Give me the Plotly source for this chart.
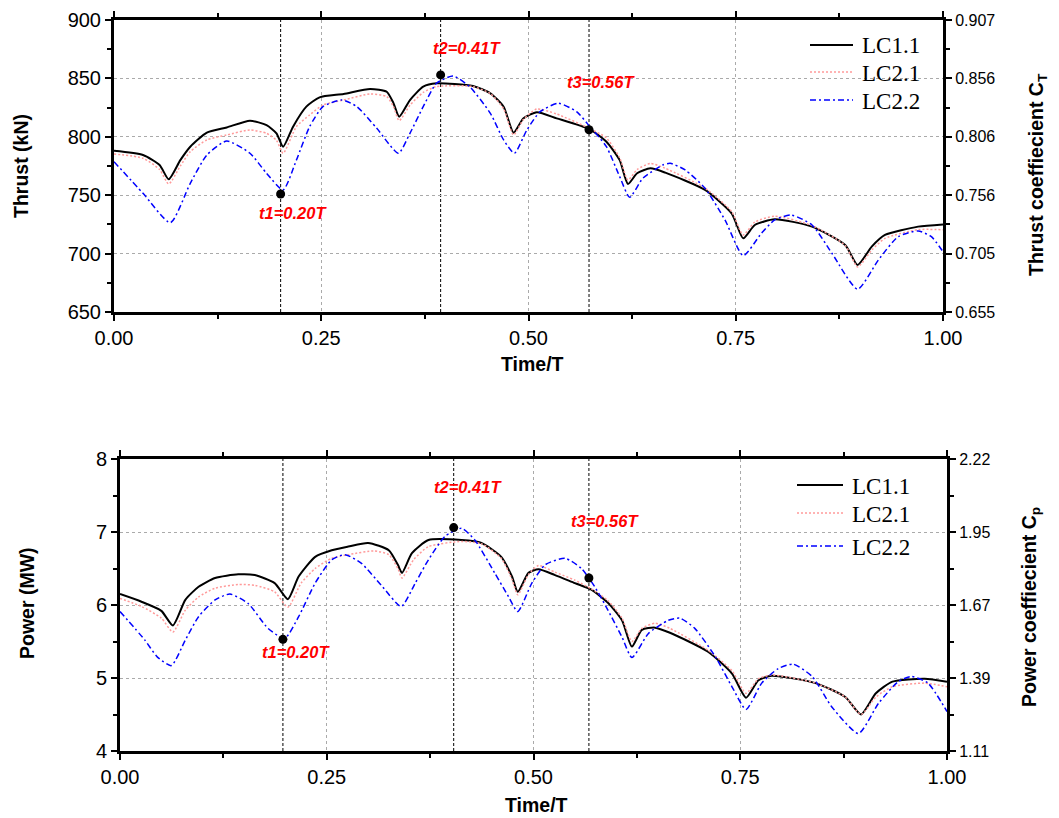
import plotly.graph_objects as go

# ---------------- data: thrust (top) ----------------
t_lc11_top = [0.0, 0.035, 0.055, 0.066, 0.080, 0.092, 0.112, 0.136, 0.164, 0.184, 0.196, 0.204, 0.216, 0.232, 0.248,
              0.277, 0.309, 0.329, 0.337, 0.344, 0.357, 0.373, 0.389, 0.433, 0.454, 0.470, 0.482, 0.494, 0.510, 0.534,
              0.574, 0.594, 0.610, 0.620, 0.631, 0.647, 0.665, 0.713, 0.745, 0.759, 0.773, 0.797, 0.842, 0.882, 0.897,
              0.914, 0.930, 0.970, 1.0]
thrust_lc11 = [788.0, 784.4, 775.9, 763.6, 780.0, 791.5, 803.5, 808.0, 813.8, 810.0, 803.0, 791.5, 808.7, 825.8, 833.8,
               836.7, 841.0, 838.6, 829.0, 817.2, 831.5, 842.9, 845.8, 843.5, 837.2, 825.8, 803.5, 815.8, 821.0, 815.8,
               806.4, 795.8, 780.0, 759.6, 768.8, 773.0, 769.3, 754.5, 734.5, 713.1, 724.5, 729.4, 723.1, 707.4, 690.3,
               706.0, 716.0, 723.1, 725.0]

t_lc21_top = [0.0, 0.035, 0.055, 0.066, 0.080, 0.092, 0.112, 0.136, 0.164, 0.184, 0.196, 0.204, 0.220, 0.236, 0.252,
              0.277, 0.309, 0.329, 0.337, 0.344, 0.357, 0.373, 0.389, 0.433, 0.454, 0.470, 0.482, 0.494, 0.510, 0.534,
              0.574, 0.594, 0.610, 0.620, 0.631, 0.647, 0.665, 0.713, 0.745, 0.759, 0.773, 0.797, 0.842, 0.882, 0.897,
              0.914, 0.930, 0.970, 1.0]
thrust_lc21 = [785.3, 781.6, 772.0, 759.6, 775.0, 787.3, 797.3, 801.6, 805.8, 803.0, 797.0, 785.9, 808.7, 818.7, 827.2,
               831.5, 836.7, 834.4, 826.0, 813.8, 827.0, 838.0, 843.0, 843.0, 837.0, 824.0, 801.6, 815.0, 823.8, 819.5,
               807.0, 799.0, 782.0, 763.0, 772.0, 777.2, 773.0, 756.0, 736.0, 716.0, 727.0, 732.0, 724.0, 707.0, 688.6,
               703.0, 713.0, 720.5, 720.4]

t_lc22_top = [0.0, 0.035, 0.068, 0.092, 0.112, 0.136, 0.164, 0.184, 0.204, 0.220, 0.236, 0.252, 0.275, 0.293, 0.317,
              0.343, 0.357, 0.373, 0.389, 0.409, 0.429, 0.454, 0.470, 0.483, 0.498, 0.514, 0.536, 0.558, 0.574, 0.594,
              0.610, 0.622, 0.638, 0.662, 0.671, 0.689, 0.713, 0.737, 0.759, 0.781, 0.797, 0.817, 0.842, 0.866, 0.897,
              0.922, 0.946, 0.970, 0.986, 1.0]
thrust_lc22 = [778.7, 751.6, 726.5, 760.2, 784.4, 796.4, 785.9, 768.8, 754.5, 780.0, 808.7, 825.8, 831.5, 825.8, 807.3,
               785.9, 803.0, 825.8, 845.8, 852.0, 842.9, 820.1, 797.3, 785.9, 805.8, 821.5, 828.7, 821.5, 808.7, 791.5,
               765.9, 748.2, 764.5, 775.9, 777.3, 771.6, 755.9, 728.8, 698.3, 717.4, 728.8, 733.0, 724.5, 700.3, 669.5,
               694.5, 714.5, 719.4, 714.5, 701.6]

mark_t_top = [0.201, 0.394, 0.573]
mark_thrust = [751, 853, 806]
label_text = ["t1=0.20T", "t2=0.41T", "t3=0.56T"]
label_t_top = [0.216, 0.426, 0.588]
label_thrust = [734.8, 876.0, 847.2]

# ---------------- data: power (bottom) ----------------
t_lc11_bot = [0.0, 0.026, 0.050, 0.064, 0.079, 0.095, 0.115, 0.143, 0.163, 0.187, 0.203, 0.216, 0.236, 0.256, 0.276,
              0.300, 0.325, 0.336, 0.341, 0.353, 0.373, 0.413, 0.437, 0.461, 0.474, 0.481, 0.494, 0.506, 0.526, 0.550,
              0.570, 0.590, 0.607, 0.619, 0.631, 0.647, 0.665, 0.711, 0.740, 0.757, 0.772, 0.788, 0.841, 0.877, 0.896,
              0.914, 0.934, 0.973, 1.0]
power_lc11 = [6.15, 6.045, 5.92, 5.72, 6.07, 6.25, 6.37, 6.42, 6.41, 6.30, 6.08, 6.39, 6.66, 6.75, 6.80,
              6.85, 6.75, 6.55, 6.44, 6.71, 6.89, 6.89, 6.85, 6.66, 6.39, 6.18, 6.44, 6.49, 6.41, 6.30,
              6.21, 6.03, 5.79, 5.43, 5.66, 5.69, 5.62, 5.36, 5.06, 4.73, 4.97, 5.03, 4.93, 4.74, 4.50,
              4.79, 4.95, 4.99, 4.95]

t_lc21_bot = [0.0, 0.026, 0.050, 0.064, 0.079, 0.095, 0.115, 0.143, 0.163, 0.187, 0.203, 0.219, 0.236, 0.256, 0.276,
              0.307, 0.325, 0.336, 0.341, 0.355, 0.373, 0.413, 0.437, 0.461, 0.474, 0.481, 0.494, 0.506, 0.526, 0.550,
              0.570, 0.590, 0.607, 0.619, 0.631, 0.647, 0.665, 0.711, 0.740, 0.757, 0.772, 0.788, 0.841, 0.877, 0.896,
              0.914, 0.934, 0.973, 1.0]
power_lc21 = [6.09, 5.98, 5.82, 5.63, 5.93, 6.11, 6.23, 6.28, 6.27, 6.18, 5.97, 6.30, 6.50, 6.64, 6.69,
              6.74, 6.69, 6.50, 6.37, 6.62, 6.80, 6.87, 6.84, 6.64, 6.35, 6.14, 6.42, 6.54, 6.45, 6.34,
              6.22, 6.06, 5.82, 5.50, 5.68, 5.75, 5.68, 5.38, 5.10, 4.79, 4.99, 5.04, 4.93, 4.74, 4.50,
              4.74, 4.88, 4.93, 4.88]

t_lc22_bot = [0.0, 0.030, 0.045, 0.062, 0.079, 0.095, 0.115, 0.133, 0.155, 0.179, 0.199, 0.216, 0.236, 0.256, 0.272,
              0.292, 0.316, 0.340, 0.357, 0.373, 0.393, 0.413, 0.429, 0.453, 0.470, 0.481, 0.498, 0.514, 0.538, 0.558,
              0.574, 0.590, 0.607, 0.619, 0.639, 0.663, 0.677, 0.695, 0.720, 0.740, 0.757, 0.776, 0.796, 0.814, 0.837,
              0.861, 0.893, 0.917, 0.941, 0.957, 0.977, 1.0]
power_lc22 = [5.91, 5.52, 5.29, 5.17, 5.52, 5.84, 6.07, 6.15, 6.02, 5.68, 5.54, 5.84, 6.30, 6.62, 6.69,
              6.57, 6.27, 5.98, 6.30, 6.62, 6.94, 7.05, 6.89, 6.44, 6.11, 5.91, 6.30, 6.55, 6.64, 6.50,
              6.25, 5.93, 5.56, 5.28, 5.61, 5.79, 5.82, 5.68, 5.29, 4.88, 4.57, 4.93, 5.13, 5.19, 5.02,
              4.60, 4.24, 4.65, 4.95, 5.02, 4.93, 4.54]

mark_t_bot = [0.197, 0.4035, 0.567]
mark_power = [5.53, 7.06, 6.37]
label_t_bot = [0.213, 0.421, 0.5865]
label_power = [5.355, 7.61, 7.153]

series_names = ["LC1.1", "LC2.1", "LC2.2"]

# ---------------- axis tick labels ----------------
x_tickvals = [0, 0.25, 0.5, 0.75, 1.0]
x_ticktext = ["0.00", "0.25", "0.50", "0.75", "1.00"]
thrust_ticks = [650, 700, 750, 800, 850, 900]
ct_ticktext = ["0.655", "0.705", "0.756", "0.806", "0.856", "0.907"]
power_ticks = [4, 5, 6, 7, 8]
cp_ticktext = ["1.11", "1.39", "1.67", "1.95", "2.22"]

W, H = 1059, 818

def px_x(p):
    return p / W

def px_y(p):
    return 1 - p / H

fig = go.Figure()

black = dict(color="black", width=2)
pink = dict(color="#ff9a9a", width=1.5, dash="2px,2px")
blue = dict(color="#0000ff", width=1.5, dash="6px,3px,2px,3px")
styles = [black, pink, blue]
shape = dict(shape="spline", smoothing=0.6)

for (x, y, name, ln, xa, ya) in [
    (t_lc11_top, thrust_lc11, "LC1.1", black, "x", "y"),
    (t_lc21_top, thrust_lc21, "LC2.1", pink, "x", "y"),
    (t_lc22_top, thrust_lc22, "LC2.2", blue, "x", "y"),
    (t_lc11_bot, power_lc11, "LC1.1", black, "x2", "y3"),
    (t_lc21_bot, power_lc21, "LC2.1", pink, "x2", "y3"),
    (t_lc22_bot, power_lc22, "LC2.2", blue, "x2", "y3"),
]:
    fig.add_trace(go.Scatter(x=x, y=y, mode="lines", name=name, line=dict(**ln, **shape),
                             showlegend=False, xaxis=xa, yaxis=ya))

fig.add_trace(go.Scatter(x=mark_t_top, y=mark_thrust, mode="markers", marker=dict(color="black", size=9),
                         showlegend=False, xaxis="x", yaxis="y"))
fig.add_trace(go.Scatter(x=mark_t_bot, y=mark_power, mode="markers", marker=dict(color="black", size=9),
                         showlegend=False, xaxis="x2", yaxis="y3"))

# vertical dashed lines
for t in mark_t_top:
    fig.add_shape(type="line", xref="x", yref="y domain", x0=t, x1=t, y0=0, y1=1,
                  line=dict(color="black", width=1, dash="3px,2px"), layer="below")
for t in mark_t_bot:
    fig.add_shape(type="line", xref="x2", yref="y3 domain", x0=t, x1=t, y0=0, y1=1,
                  line=dict(color="black", width=1, dash="3px,2px"), layer="below")

# t labels
lab_font = dict(family="Arial", size=16.5, color="red")
for t, v, s in zip(label_t_top, label_thrust, label_text):
    fig.add_annotation(x=t, y=v, xref="x", yref="y", text="<b><i>%s</i></b>" % s, showarrow=False, font=lab_font,
                       xanchor="center", yanchor="middle")
for t, v, s in zip(label_t_bot, label_power, label_text):
    fig.add_annotation(x=t, y=v, xref="x2", yref="y3", text="<b><i>%s</i></b>" % s, showarrow=False, font=lab_font,
                       xanchor="center", yanchor="middle")

# axis titles as annotations
title_font = dict(family="Arial", size=19.5, color="black")
titles = [
    (21, 166, "<b>Thrust (kN)</b>", -90),
    (532, 364, "<b>Time/T</b>", 0),
    (1038, 175, "<b>Thrust coeffiecient C<sub>T</sub></b>", -90),
    (27, 603, "<b>Power (MW)</b>", -90),
    (536, 805, "<b>Time/T</b>", 0),
    (1030, 607, "<b>Power coeffiecient C<sub>p</sub></b>", -90),
]
for (xx, yy, txt, ang) in titles:
    fig.add_annotation(x=px_x(xx), y=px_y(yy), xref="paper", yref="paper", text=txt, textangle=ang,
                       showarrow=False, font=title_font, xanchor="center", yanchor="middle")

# legends (drawn as line samples + text)
leg_font = dict(family="Liberation Serif", size=23, color="black")
legend_boxes = [
    (810, 853, 860, [45, 72, 100]),
    (797, 843, 850, [485, 513, 546]),
]
for (lx0, lx1, tx, ys) in legend_boxes:
    for name, st, yy in zip(series_names, styles, ys):
        fig.add_shape(type="line", xref="paper", yref="paper", x0=px_x(lx0), x1=px_x(lx1),
                      y0=px_y(yy), y1=px_y(yy), line=dict(color=st["color"], width=st["width"],
                                                          dash=st.get("dash", "solid")))
        fig.add_annotation(x=px_x(tx), y=px_y(yy + 1), xref="paper", yref="paper", text=name, showarrow=False,
                           font=leg_font, xanchor="left", yanchor="middle")

tick_font = dict(family="Arial", size=20, color="black")
rtick_font = dict(family="Arial", size=16, color="black")
grid = dict(showgrid=True, gridcolor="#aaaaaa", griddash="dot", gridwidth=1)
frame = dict(showline=True, linecolor="black", linewidth=3, ticks="outside", ticklen=6, tickwidth=2,
             tickcolor="black", zeroline=False, automargin=False)

top_x = [px_x(114), px_x(943)]
bot_x = [px_x(120), px_x(947)]
top_y = [px_y(312), px_y(20)]
bot_y = [px_y(751), px_y(459)]

fig.update_layout(
    width=W, height=H, margin=dict(l=0, r=0, t=0, b=0, autoexpand=False),
    plot_bgcolor="white", paper_bgcolor="white", showlegend=False,
    xaxis=dict(domain=top_x, anchor="y", range=[0, 1], tickvals=x_tickvals, ticktext=x_ticktext,
               tickfont=tick_font, mirror="ticks",
               minor=dict(ticks="outside", ticklen=4, tickwidth=2, dtick=0.125, tick0=0, showgrid=False),
               **grid, **frame),
    yaxis=dict(domain=top_y, anchor="x", range=[650, 900], tickvals=thrust_ticks, tickfont=tick_font,
               minor=dict(ticks="outside", ticklen=4, tickwidth=2, dtick=25, tick0=650, showgrid=False),
               **grid, **frame),
    yaxis2=dict(overlaying="y", side="right", anchor="x", range=[650, 900], tickvals=thrust_ticks,
                ticktext=ct_ticktext, tickfont=rtick_font, showgrid=False,
                minor=dict(ticks="outside", ticklen=4, tickwidth=2, dtick=25, tick0=650, showgrid=False),
                **frame),
    xaxis2=dict(domain=bot_x, anchor="y3", range=[0, 1], tickvals=x_tickvals, ticktext=x_ticktext,
                tickfont=tick_font, mirror="ticks",
                minor=dict(ticks="outside", ticklen=4, tickwidth=2, dtick=0.125, tick0=0, showgrid=False),
                **grid, **frame),
    yaxis3=dict(domain=bot_y, anchor="x2", range=[4, 8], tickvals=power_ticks, tickfont=tick_font,
                minor=dict(ticks="outside", ticklen=4, tickwidth=2, dtick=0.5, tick0=4, showgrid=False),
                **grid, **frame),
    yaxis4=dict(overlaying="y3", side="right", anchor="x2", range=[4, 8], tickvals=power_ticks,
                ticktext=cp_ticktext, tickfont=rtick_font, showgrid=False,
                minor=dict(ticks="outside", ticklen=4, tickwidth=2, dtick=0.5, tick0=4, showgrid=False),
                **frame),
)

# give y2 / y4 a dummy trace so the axes render
fig.add_trace(go.Scatter(x=[None], y=[None], xaxis="x", yaxis="y2", showlegend=False))
fig.add_trace(go.Scatter(x=[None], y=[None], xaxis="x2", yaxis="y4", showlegend=False))

fig.write_html("out.html")
